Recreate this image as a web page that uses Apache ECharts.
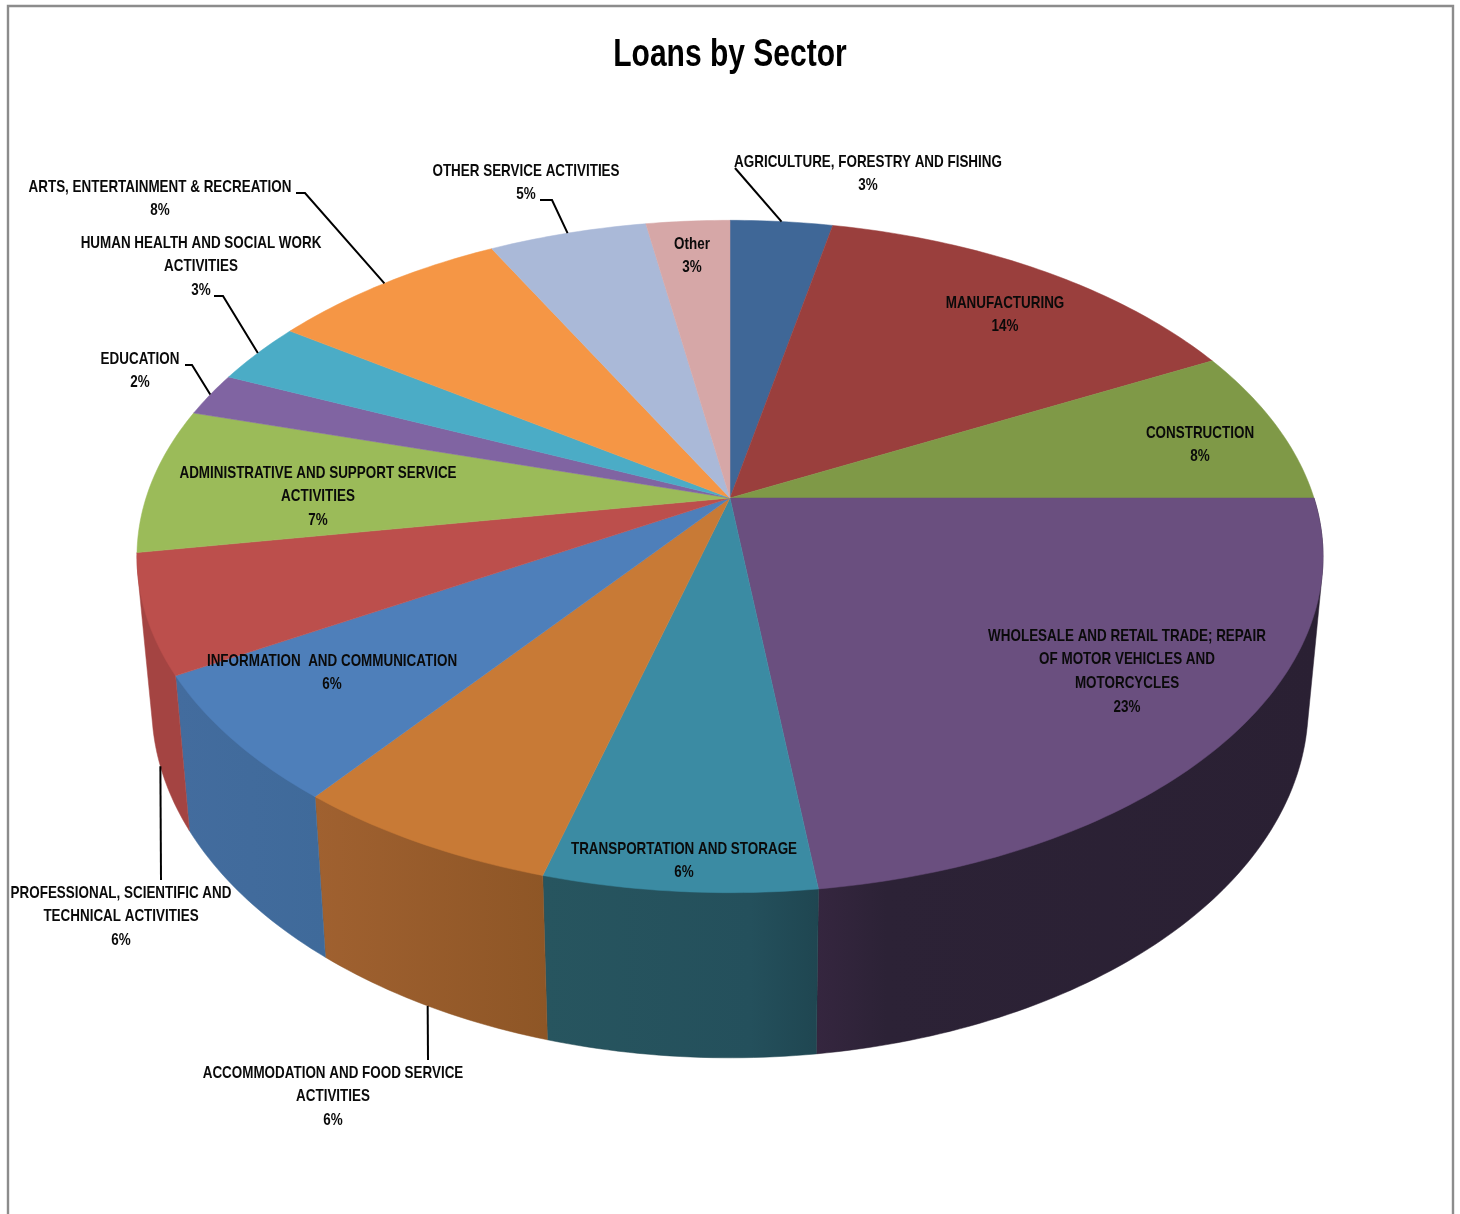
<!DOCTYPE html>
<html>
<head>
<meta charset="utf-8">
<title>Loans by Sector</title>
<style>
  html, body { margin: 0; padding: 0; background: #fff; }
  #chart { width: 1460px; height: 1214px; }
</style>
<script src="https://cdn.jsdelivr.net/npm/echarts@6/dist/echarts.min.js"></script>
</head>
<body>
<div id="chart"></div>
<script>
// Loan book share by sector, clockwise from twelve o'clock.
const categories = [
  'AGRICULTURE, FORESTRY AND FISHING',
  'MANUFACTURING',
  'CONSTRUCTION',
  'WHOLESALE AND RETAIL TRADE; REPAIR\nOF MOTOR VEHICLES AND\nMOTORCYCLES',
  'TRANSPORTATION AND STORAGE',
  'ACCOMMODATION AND FOOD SERVICE\nACTIVITIES',
  'INFORMATION  AND COMMUNICATION',
  'PROFESSIONAL, SCIENTIFIC AND\nTECHNICAL ACTIVITIES',
  'ADMINISTRATIVE AND SUPPORT SERVICE\nACTIVITIES',
  'EDUCATION',
  'HUMAN HEALTH AND SOCIAL WORK\nACTIVITIES',
  'ARTS, ENTERTAINMENT & RECREATION',
  'OTHER SERVICE ACTIVITIES',
  'Other'
];
const loanShare = [3.3, 14.2, 7.5, 23.0, 6.3, 6.2, 6.2, 5.7, 7.0, 2.1, 3.0, 7.7, 5.1, 2.7];

const faceColors = ['#3f6797', '#9a3f3d', '#7f9947', '#6a4f7f', '#3b8ba3', '#c87a36', '#4e7fba',
  '#bc4f4c', '#9bbb59', '#8064a2', '#4bacc6', '#f59645', '#aab9d8', '#d6a7a7'];
// Side wall shading, only for the slices on the near half of the disc.
const wallStops = {
  3: [[0, '#35263f'], [0.14, '#2c2236'], [1, '#2a2033']],
  4: [[0, '#27555f'], [0.75, '#24505c'], [1, '#1f4651']],
  5: [[0, '#a06130'], [1, '#8e5626']],
  6: [[0, '#436c9e'], [1, '#3f6a9a']],
  7: [[0, '#a44442'], [1, '#a44442']]
};

// Centre of each label block and the y of its first line.
const labelPlacement = [
  [868, 162], [1005, 303], [1200, 433], [1127, 636], [684, 849], [333, 1073], [332, 661],
  [121, 893], [318, 473], [140, 359], [201, 243], [160, 187], [526, 171], [692, 244]
];
// Leader lines: elbow points, then which rim of the disc the line lands on.
const leaderPaths = {
  0: { points: [[735, 168]], rim: 'top' },
  5: { points: [[428, 1060]], rim: 'bottom' },
  7: { points: [[161, 880]], rim: 'bottom' },
  9: { points: [[185, 365], [192, 365]], rim: 'top' },
  10: { points: [[214, 296], [223, 296]], rim: 'top' },
  11: { points: [[296, 193], [305, 193]], rim: 'top' },
  12: { points: [[540, 200], [552, 200]], rim: 'top' }
};

const total = loanShare.reduce((a, b) => a + b, 0);
const startAt = [];
loanShare.reduce((sum, v, i) => { startAt[i] = sum; return sum + v; }, 0);

// Perspective view of a flat disc tilted away from the viewer.
const disc = { cx: 730, cy: 498, a: 584, b: 326, k: 0.174, shrinkX: 0.975, stretchY: 1.047, drop: 146.6 };

function rimTop(share) {
  const t = share / total * Math.PI * 2;
  const X = Math.sin(t), Y = Math.cos(t), d = 1 + disc.k * Y;
  return [disc.a * X / d, -disc.b * Y / d];
}
function pointTop(share) {
  const p = rimTop(share);
  return [disc.cx + p[0], disc.cy + p[1]];
}
function pointBottom(share) {
  const p = rimTop(share);
  return [disc.cx + disc.shrinkX * p[0], disc.cy + disc.drop + disc.stretchY * p[1]];
}
function arc(fn, from, to) {
  const steps = Math.max(4, Math.ceil((to - from) * 4));
  const pts = [];
  for (let i = 0; i <= steps; i++) pts.push(fn(from + (to - from) * i / steps));
  return pts;
}
// Outline of a wall segment: the rim arcs cross near the disc's sides, so the
// silhouette is taken as the convex outline of both arcs.
function outline(points) {
  const sorted = points.slice().sort((p, q) => p[0] - q[0] || p[1] - q[1]);
  const cross = (o, p, q) => (p[0] - o[0]) * (q[1] - o[1]) - (p[1] - o[1]) * (q[0] - o[0]);
  const half = list => {
    const out = [];
    list.forEach(p => {
      while (out.length > 1 && cross(out[out.length - 2], out[out.length - 1], p) <= 0) out.pop();
      out.push(p);
    });
    out.pop();
    return out;
  };
  return half(sorted).concat(half(sorted.slice().reverse()));
}

const seriesData = categories.map((name, i) => ({ name: name, value: loanShare[i] }));
const labelFont = 'bold 17px "Liberation Sans Narrow", "Liberation Sans", sans-serif';
const labelSqueeze = 0.79;

function renderWall(params) {
  const i = params.dataIndex;
  const stops = wallStops[i];
  if (!stops) return null;
  const from = startAt[i], to = from + loanShare[i];
  const shape = outline(arc(pointTop, from, to).concat(arc(pointBottom, from, to)));
  return {
    type: 'polygon',
    shape: { points: shape },
    style: {
      fill: new echarts.graphic.LinearGradient(0, 0, 1, 0,
        stops.map(s => ({ offset: s[0], color: s[1] }))),
      stroke: stops[stops.length - 1][1],
      lineWidth: 0.5
    }
  };
}

function renderFace(params) {
  const i = params.dataIndex;
  const from = startAt[i], to = from + loanShare[i];
  return {
    type: 'polygon',
    shape: { points: [[disc.cx, disc.cy]].concat(arc(pointTop, from, to)) },
    style: { fill: faceColors[i], stroke: faceColors[i], lineWidth: 0.5 }
  };
}

function renderLabel(params) {
  const i = params.dataIndex;
  const lines = categories[i].split('\n').concat(Math.round(loanShare[i] / total * 100) + '%');
  const place = labelPlacement[i];
  const children = lines.map((line, n) => ({
    type: 'text',
    x: place[0],
    y: place[1] + n * 23.7,
    scaleX: labelSqueeze,
    style: { text: line, font: labelFont, fill: '#0a0a0a', textAlign: 'center', textVerticalAlign: 'middle' }
  }));
  const leader = leaderPaths[i];
  if (leader) {
    const mid = startAt[i] + loanShare[i] / 2;
    const end = (leader.rim === 'top' ? pointTop : pointBottom)(mid);
    children.push({
      type: 'polyline',
      shape: { points: leader.points.concat([end]) },
      style: { stroke: '#000', lineWidth: 2, fill: null }
    });
  }
  return { type: 'group', children: children };
}

const chart = echarts.init(document.getElementById('chart'), null, { renderer: 'canvas' });
chart.setOption({
  animation: false,
  backgroundColor: '#ffffff',
  graphic: [
    {
      type: 'polyline',
      z: 0,
      shape: { points: [[8, 1214], [8, 6], [1453, 6], [1453, 1214]] },
      style: { stroke: '#8c8c8c', lineWidth: 2.4, fill: null }
    },
    {
      type: 'text',
      x: 730,
      y: 56,
      scaleX: 0.79,
      z: 10,
      style: {
        text: 'Loans by Sector',
        font: 'bold 38px "Liberation Sans Narrow", "Liberation Sans", sans-serif',
        fill: '#000',
        textAlign: 'center',
        textVerticalAlign: 'middle'
      }
    }
  ],
  series: [
    { type: 'custom', name: 'Wall', coordinateSystem: 'none', z: 1, silent: true, renderItem: renderWall, data: seriesData },
    { type: 'custom', name: 'Loans by Sector', coordinateSystem: 'none', z: 2, renderItem: renderFace, data: seriesData },
    { type: 'custom', name: 'Labels', coordinateSystem: 'none', z: 3, silent: true, renderItem: renderLabel, data: seriesData }
  ]
});
</script>
</body>
</html>
